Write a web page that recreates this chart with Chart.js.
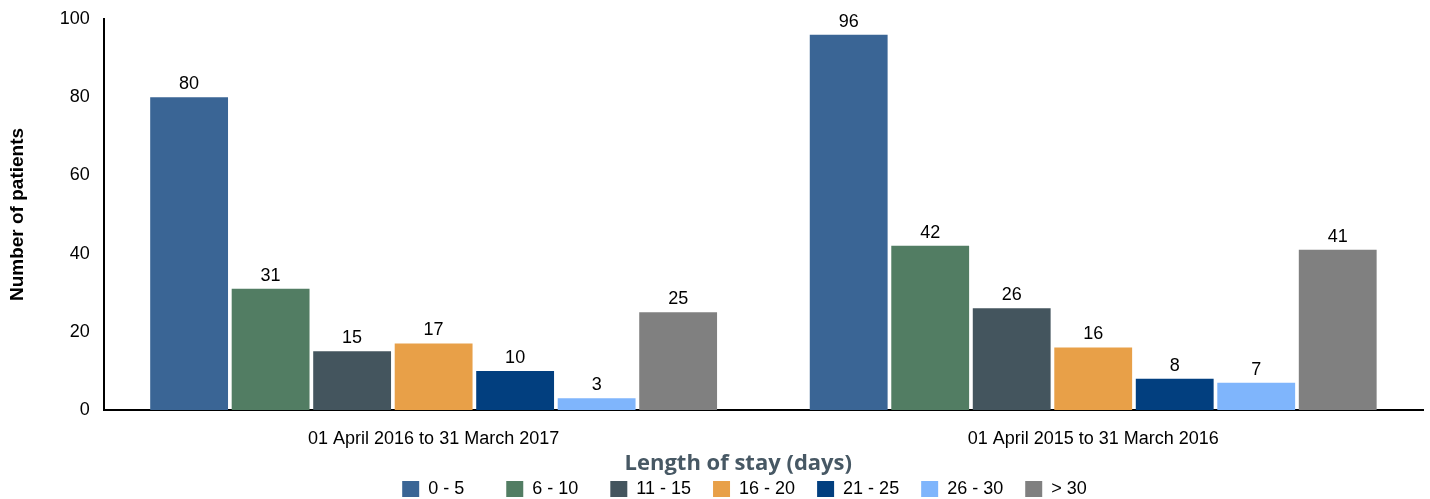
<!DOCTYPE html>
<html lang="en">
<head>
    <meta charset="UTF-8">
    <script src="https://cdn.jsdelivr.net/npm/chart.js"></script>
    <title>Length of stay</title>
    <style>
        body {
            margin: 0;
            padding: 0;
            background-color: white;
        }
        #wrap {
            width: 1430px;
            height: 499px;
        }
    </style>
</head>
<body>
    <div id="wrap">
        <canvas id="myChart" width="1430" height="499"></canvas>
    </div>

    <script>
        const periods = ['01 April 2016 to 31 March 2017', '01 April 2015 to 31 March 2016'];
        const stayBands = ['0 - 5', '6 - 10', '11 - 15', '16 - 20', '21 - 25', '26 - 30', '> 30'];
        const bandColors = ['#3a6595', '#527d63', '#44555e', '#e8a048', '#023f7f', '#7fb5fc', '#808080'];
        const patients = [
            [80, 96],
            [31, 42],
            [15, 26],
            [17, 16],
            [10, 8],
            [3, 7],
            [25, 41]
        ];
        const yTicks = [0, 20, 40, 60, 80, 100];

        const FONT = '"Liberation Sans", Arial, sans-serif';

        // draws the value above each bar
        const barValues = {
            id: 'barValues',
            afterDatasetsDraw(chart) {
                const ctx = chart.ctx;
                ctx.save();
                ctx.font = '18px ' + FONT;
                ctx.fillStyle = '#000';
                ctx.textAlign = 'center';
                ctx.textBaseline = 'bottom';
                chart.data.datasets.forEach((ds, i) => {
                    chart.getDatasetMeta(i).data.forEach((bar, j) => {
                        ctx.fillText(ds.data[j], bar.x, bar.y - 4);
                    });
                });
                ctx.restore();
            }
        };

        // legend in the original sits a bit right of centre
        const legendShift = {
            id: 'legendShift',
            afterLayout(chart) {
                chart.legend.left += 55;
                chart.legend.right += 55;
            }
        };

        // pad legend texts with figure spaces so every entry is the same width
        function padLabel(text) {
            return text + '\u2007'.repeat(Math.max(0, 9 - text.length));
        }

        const chartData = {
            labels: periods,
            datasets: stayBands.map((band, i) => ({
                label: band,
                data: patients[i],
                backgroundColor: bandColors[i],
                borderWidth: 0,
                categoryPercentage: 0.865,
                barPercentage: 0.955
            }))
        };

        const chartConfig = {
            type: 'bar',
            data: chartData,
            plugins: [barValues, legendShift],
            options: {
                responsive: false,
                animation: false,
                layout: {
                    padding: { top: 19, right: 7, left: 6, bottom: -9 }
                },
                plugins: {
                    tooltip: { enabled: false },
                    legend: {
                        position: 'bottom',
                        labels: {
                            boxWidth: 17,
                            boxHeight: 16,
                            padding: 2,
                            color: '#000',
                            font: { family: FONT, size: 18 },
                            generateLabels: chart => Chart.defaults.plugins.legend.labels.generateLabels(chart)
                                .map(item => ({ ...item, text: padLabel(item.text) }))
                        }
                    }
                },
                scales: {
                    x: {
                        grid: { display: false, drawTicks: false },
                        border: { color: '#000', width: 2 },
                        ticks: {
                            color: '#000',
                            padding: 18,
                            font: { family: FONT, size: 18 }
                        },
                        title: {
                            display: true,
                            // trailing figure spaces nudge the title left, as in the original
                            text: 'Length of stay (days)\u2007\u2007\u2007\u2007',
                            color: '#475864',
                            font: { family: '"Open Sans", Calibri, sans-serif', size: 22, weight: 'bold' },
                            padding: { top: -17, bottom: 1 }
                        }
                    },
                    y: {
                        min: 0,
                        max: 100,
                        afterBuildTicks: axis => {
                            axis.ticks = yTicks.map(v => ({ value: v }));
                        },
                        afterFit: axis => {
                            axis.paddingTop = 0;
                        },
                        grid: { display: false, drawTicks: false },
                        border: { color: '#000', width: 2 },
                        ticks: {
                            color: '#000',
                            padding: 14,
                            font: { family: FONT, size: 18 }
                        },
                        title: {
                            display: true,
                            text: 'Number of patients',
                            color: '#000',
                            font: { family: FONT, size: 19, weight: 'bold' },
                            padding: { top: 0, bottom: 17 }
                        }
                    }
                }
            }
        };

        var myChart = new Chart(
            document.getElementById('myChart'),
            chartConfig
        );
    </script>
</body>
</html>
